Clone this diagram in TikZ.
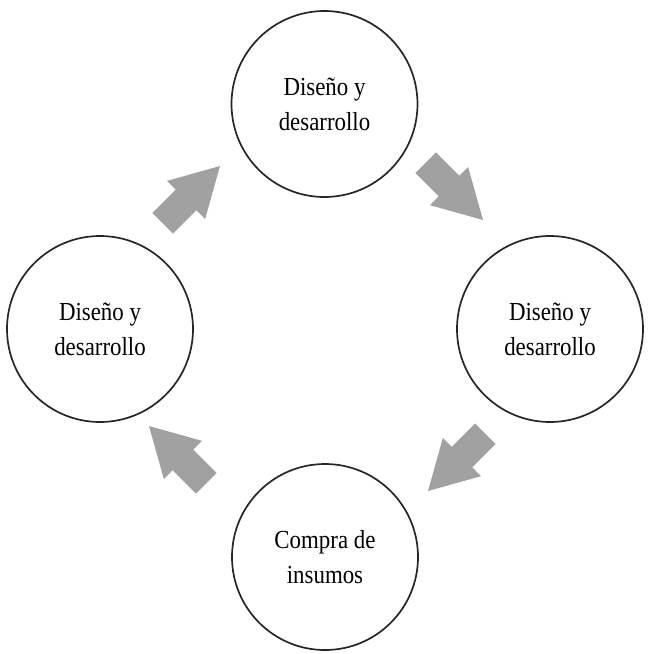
\documentclass[tikz,border=0pt]{standalone}
\usepackage{fontspec}
\setmainfont[FakeStretch=0.88]{Liberation Serif}
\begin{document}
\begin{tikzpicture}[x=1pt,y=-1pt,
  stage/.style={circle, draw=black!85, line width=1.7pt, minimum size=186pt, inner sep=0pt,
    align=center, font=\fontsize{26}{35}\selectfont},
  blockarrow/.style={fill=black!37, draw=none}]
\useasboundingbox (0,0) rectangle (650,654);
\node[stage] (top) at (324.5,104) {Diseño y\\desarrollo};
\node[stage] (right) at (550,329) {Diseño y\\desarrollo};
\node[stage] (bottom) at (325,557) {Compra de\\insumos};
\node[stage] (left) at (100,329) {Diseño y\\desarrollo};
\newcommand{\cyclearrow}[3]{%
  \coordinate (#3) at (#1);
  \begin{scope}[shift={(#3)}, rotate=#2]
    \fill[blockarrow] (-40,-14.5) -- (-7,-14.5) -- (-7,-27) -- (41,0) -- (-7,27) -- (-7,14.5) -- (-40,14.5) -- cycle;
  \end{scope}}
\cyclearrow{191,195}{45}{a1}
\cyclearrow{454,191}{-45}{a2}
\cyclearrow{457,462}{-135}{a3}
\cyclearrow{178,455}{135}{a4}
\end{tikzpicture}
\end{document}
